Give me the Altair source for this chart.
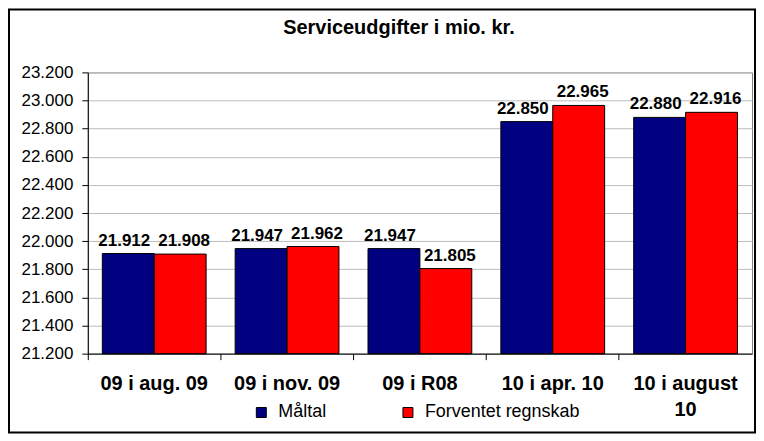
import altair as alt
import pandas as pd

categories = ["09 i aug. 09", "09 i nov. 09", "09 i R08", "10 i apr. 10", "10 i august 10"]
series = ["Måltal", "Forventet regnskab"]
maltal = [21912, 21947, 21947, 22850, 22880]
forventet = [21908, 21962, 21805, 22965, 22916]
y_ticks = [21200, 21400, 21600, 21800, 22000, 22200, 22400, 22600, 22800, 23000, 23200]
colors = ["#000080", "#FF0000"]

rows = []
for c, m, f in zip(categories, maltal, forventet):
    rows.append({"kategori": c, "serie": series[0], "værdi": m})
    rows.append({"kategori": c, "serie": series[1], "værdi": f})
df = pd.DataFrame(rows)

FONT = "Liberation Sans"

x = alt.X("kategori:N", sort=categories, title=None,
          scale=alt.Scale(paddingInner=0, paddingOuter=0),
          axis=alt.Axis(labelAngle=0, labelFont=FONT, labelFontSize=20, labelFontWeight="bold",
                        labelColor="black", labelPadding=14, labelLineHeight=26,
                        labelExpr="datum.value == '10 i august 10' ? ['10 i august', '10'] : datum.value",
                        bandPosition=0, tickSize=6, tickColor="black", domainColor="black",
                        labelLimit=200, grid=False))
xoff = alt.XOffset("serie:N", sort=series, scale=alt.Scale(paddingOuter=0.28, paddingInner=0))
y = alt.Y("værdi:Q", title=None,
          scale=alt.Scale(domain=[21200, 23200], zero=False, nice=False),
          axis=alt.Axis(values=y_ticks, format=",.0f", labelFont=FONT, labelFontSize=17,
                        labelColor="black", labelPadding=9, tickSize=6, tickColor="black",
                        domainColor="black", gridColor="#bdbdbd"))

bars = alt.Chart(df).mark_bar(stroke="black", strokeWidth=1).encode(
    x=x, xOffset=xoff, y=y, y2=alt.datum(21200),
    color=alt.Color("serie:N", sort=series,
                    scale=alt.Scale(domain=series, range=colors),
                    legend=alt.Legend(title=None, orient="none", direction="horizontal",
                                      legendX=165, legendY=332, labelFont=FONT, labelFontSize=18,
                                      labelColor="black", symbolType="square", symbolSize=100,
                                      symbolStrokeColor="black", symbolStrokeWidth=1,
                                      symbolOpacity=1, columnPadding=72, labelOffset=8)),
)

def labels(name, dx):
    return alt.Chart(df).transform_filter(alt.datum.serie == name).mark_text(
        font=FONT, fontSize=17, fontWeight="bold", color="black", baseline="alphabetic",
        dy=-8, dx=dx
    ).encode(x=x, xOffset=xoff, y=y, text=alt.Text("værdi:Q", format=",.0f"))

border = alt.Chart(pd.DataFrame({"b": [0]})).mark_rect(
    fill=None, stroke="black", strokeWidth=2
).encode(x=alt.value(-79), x2=alt.value(669), y=alt.value(-63), y2=alt.value(361))

chart = alt.layer(bars, labels(series[0], -4), labels(series[1], 4), border).properties(
    width=666, height=282,
    autosize=alt.AutoSizeParams(type="none"),
    padding={"left": 80, "top": 64, "right": 4, "bottom": 80},
    title=alt.TitleParams("Serviceudgifter i mio. kr.", font=FONT, fontSize=20, fontWeight="bold",
                          color="black", anchor="middle", dx=-21, dy=45, offset=0,
                          baseline="alphabetic"),
    background="white",
).configure(
    locale={"number": {"decimal": ",", "thousands": ".", "grouping": [3], "currency": ["", " kr."]}}
).configure_view(stroke="#808080", strokeWidth=1)

chart.save("out.html", embed_options={"renderer": "svg", "actions": False})
